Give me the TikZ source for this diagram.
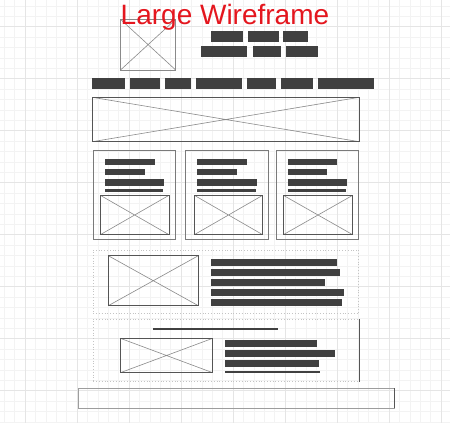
\documentclass[tikz,border=0pt]{standalone}
\usepackage{fontspec}
\setmainfont{Liberation Sans}
\definecolor{gridminor}{HTML}{F3F3F3}
\definecolor{gridmajor}{HTML}{E5E5E5}
\definecolor{barfill}{HTML}{404040}
\definecolor{edge}{HTML}{555555}
\definecolor{cross}{HTML}{8A8A8A}
\definecolor{cardedge}{HTML}{7A7A7A}
\definecolor{faint}{HTML}{C4C4C4}
\definecolor{titlered}{HTML}{E4161E}
% box from top-left (x1,y1) to bottom-right (x2,y2), in pixels
\newcommand\wbox[6]{%
  \pgfmathsetmacro\wbw{#5-#3}\pgfmathsetmacro\wbh{#6-#4}%
  \node[#2, anchor=north west, minimum width=\wbw pt, minimum height=\wbh pt] (#1) at (#3,#4) {};}
\tikzset{
  bar/.style={fill=barfill, draw=none, inner sep=0pt, outer sep=0pt},
  imgbox/.style={draw=edge, line width=0.8pt, inner sep=0pt, outer sep=0pt,
    path picture={\draw[cross, line width=0.6pt]
      (path picture bounding box.north west) -- (path picture bounding box.south east)
      (path picture bounding box.south west) -- (path picture bounding box.north east);}},
  lightimg/.style={imgbox, draw=cross},
  card/.style={draw=cardedge, line width=0.8pt, inner sep=0pt, outer sep=0pt},
  section/.style={draw=faint, dotted, line width=0.8pt, inner sep=0pt, outer sep=0pt},
  footerbox/.style={draw=faint!80!black, line width=0.8pt, inner sep=0pt, outer sep=0pt},
}
\begin{document}
\begin{tikzpicture}[x=1pt, y=-1pt]
\useasboundingbox (0,0) rectangle (450,423);
\fill[white] (0,0) rectangle (450,423);
% background grid
\foreach \i in {0,...,43} {
  \pgfmathsetmacro\gx{4.2+10.4*\i}
  \draw[gridminor, line width=0.6pt] (\gx,0) -- (\gx,423);
}
\foreach \i in {0,...,40} {
  \pgfmathsetmacro\gy{5.9+10.4*\i}
  \draw[gridminor, line width=0.6pt] (0,\gy) -- (450,\gy);
}
\foreach \i in {0,...,8} {
  \pgfmathsetmacro\gx{25+52*\i}
  \draw[gridmajor, line width=0.6pt] (\gx,0) -- (\gx,423);
}
\foreach \i in {0,...,7} {
  \pgfmathsetmacro\gy{26.7+52*\i}
  \draw[gridmajor, line width=0.6pt] (0,\gy) -- (450,\gy);
}

% header
\wbox{logo}{lightimg}{120.5}{19.3}{175.7}{70}
\node[anchor=base, text=titlered, inner sep=0pt, font=\fontsize{28}{32}\selectfont] (title) at (225,24.5) {Large Wireframe};
\wbox{t1}{bar}{210.7}{31}{242.7}{41.7}
\wbox{t2}{bar}{248.3}{31}{279}{41.7}
\wbox{t3}{bar}{283.3}{31}{308.3}{41.7}
\wbox{t4}{bar}{201}{45.7}{247.3}{56.7}
\wbox{t5}{bar}{252.7}{45.7}{281}{56.7}
\wbox{t6}{bar}{286}{45.7}{318.3}{56.7}

% navigation
\wbox{n1}{bar}{92}{77.7}{125.3}{89}
\wbox{n2}{bar}{130}{77.7}{160}{89}
\wbox{n3}{bar}{165.3}{77.7}{190.7}{89}
\wbox{n4}{bar}{195.7}{77.7}{242}{89}
\wbox{n5}{bar}{247}{77.7}{276}{89}
\wbox{n6}{bar}{281}{77.7}{312.7}{89}
\wbox{n7}{bar}{318.3}{77.7}{374}{89}

% hero
\wbox{hero}{imgbox}{92.3}{97.3}{359.3}{141.7}

% cards
\wbox{card1}{card}{93.3}{150}{175.7}{239.3}
\wbox{card2}{card}{185.3}{150}{268.7}{239.3}
\wbox{card3}{card}{276}{150}{358.7}{239.3}

\wbox{c1a}{bar}{105}{159}{155}{165}
\wbox{c1b}{bar}{105}{169.3}{145}{175.3}
\wbox{c1c}{bar}{105}{179.3}{164}{185.7}
\wbox{c1d}{bar}{105}{189}{163.3}{191.7}
\wbox{c1img}{imgbox}{100.3}{195.3}{169}{234.7}

\wbox{c2a}{bar}{197}{159}{247.3}{165}
\wbox{c2b}{bar}{197}{169.3}{237.3}{175.3}
\wbox{c2c}{bar}{197}{179.3}{256.7}{185.7}
\wbox{c2d}{bar}{197}{189}{256}{191.7}
\wbox{c2img}{imgbox}{194.3}{195.3}{262.7}{234.7}

\wbox{c3a}{bar}{288}{159}{337}{165}
\wbox{c3b}{bar}{288}{169.3}{327}{175.3}
\wbox{c3c}{bar}{288}{179.3}{346.7}{185.7}
\wbox{c3d}{bar}{288}{189}{346}{191.7}
\wbox{c3img}{imgbox}{283.3}{195.3}{352.7}{234.7}

% feature section
\wbox{feat}{section}{93.3}{250}{358.7}{313.3}
\wbox{fimg}{imgbox}{108.3}{255.7}{198.3}{305.7}
\wbox{f1}{bar}{210.7}{259.3}{336.7}{266}
\wbox{f2}{bar}{210.7}{269.3}{340}{276}
\wbox{f3}{bar}{210.7}{279.3}{325}{286}
\wbox{f4}{bar}{210.7}{289.3}{344}{296}
\wbox{f5}{bar}{210.7}{299.3}{341.7}{306}

% second section
\wbox{sec}{section}{93.3}{319.3}{359.3}{381.7}
\draw[edge, line width=0.7pt] (sec.north east) -- (sec.south east);
\wbox{shead}{bar}{152.7}{328.2}{277.7}{329.8}
\wbox{simg}{imgbox}{120.3}{338.3}{212.7}{372.7}
\wbox{s1}{bar}{225}{340}{316.7}{346.7}
\wbox{s2}{bar}{225}{350}{335}{356.7}
\wbox{s3}{bar}{225}{360}{319.3}{366.7}
\wbox{s4}{bar}{225}{370.7}{320}{372.7}

% footer
\wbox{footer}{footerbox}{78.3}{388.3}{394.3}{408.3}
\draw[edge, line width=0.7pt] (footer.north east) -- (footer.south east);
\end{tikzpicture}
\end{document}
